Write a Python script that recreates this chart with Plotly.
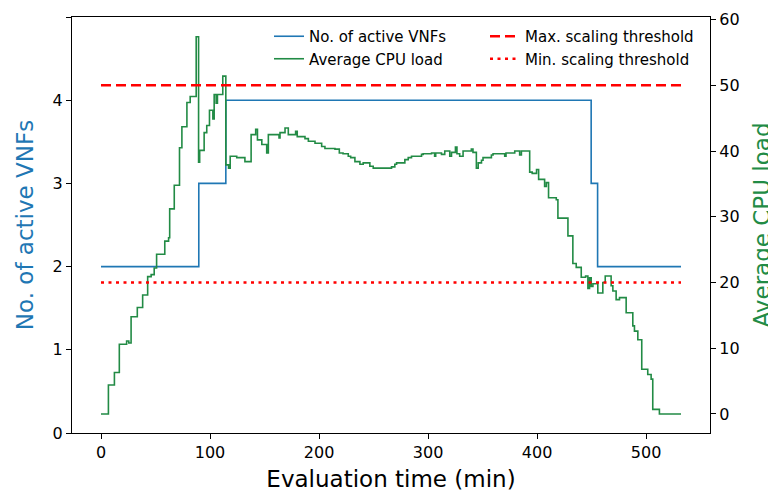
import plotly.graph_objects as go

# ---- data ----
time_vnf = [0, 89.7, 114.5, 449.6, 455.5, 532]
active_vnfs = [2, 3, 4, 3, 2, 2]

time_cpu = [0, 6.8, 12.3, 16.8, 23.5, 25.5, 27.6, 33.3, 38.2, 42.8, 46.0, 48.8, 51.0,
            58.5, 62.0, 63.0, 67.2, 72.0, 74.2, 78.8, 81.8, 87.3, 89.5, 90.5, 94.6,
            97.0, 99.5, 102.6, 103.8, 105.6, 106.8, 111.7, 114.5, 117.0, 118.5, 124.5,
            132.0, 137.7, 141.9, 143.5, 147.5, 152.0, 153.5, 163.3, 164.2, 168.8, 171.8,
            178.5, 180.0, 187.1, 190.2, 196.3, 202.4, 205.4, 214.6, 218.6, 222.0, 226.8,
            229.0, 232.9, 237.5, 240.5, 246.6, 249.7, 266.5, 269.5, 271.1, 278.7, 281.8,
            284.8, 294.0, 295.5, 303.2, 306.0, 307.0, 312.3, 315.3, 319.9, 321.5, 325.1,
            326.5, 329.0, 332.1, 339.7, 341.2, 344.3, 346.0, 349.0, 350.4, 358.1, 359.6,
            370.3, 371.5, 379.5, 384.0, 385.6, 393.2, 395.5, 399.5, 401.4, 406.9, 408.5,
            410.5, 417.6, 419.1, 428.3, 432.8, 435.9, 440.5, 444.5, 446.6, 448.1, 449.6,
            451.2, 455.7, 460.3, 462.5, 467.9, 469.5, 472.5, 475.6, 481.7, 487.8, 489.3,
            492.4, 496.0, 501.5, 504.6, 506.1, 512.2, 532]
cpu_load = [0.0, 4.4, 6.3, 10.6, 11.1, 10.8, 14.8, 16.2, 18.1, 20.9, 21.2, 22.2, 24.3,
            26.3, 26.8, 31.2, 34.8, 40.5, 43.7, 47.4, 48.3, 57.4, 38.3, 40.1, 42.8,
            43.9, 46.2, 44.9, 48.6, 47.3, 48.6, 51.4, 37.9, 37.4, 39.2, 39.0,
            38.4, 42.5, 43.3, 41.7, 41.0, 39.7, 42.5, 42.0, 42.8, 43.5, 42.5,
            43.0, 42.2, 41.9, 41.5, 41.2, 40.7, 40.4, 40.3, 39.7, 39.6, 39.2,
            39.0, 38.4, 38.0, 38.2, 37.7, 37.4, 37.6, 38.0, 38.2, 38.7, 39.0,
            39.2, 39.5, 39.6, 39.7, 39.2, 39.7, 39.5, 40.0, 39.2, 39.8, 40.6,
            39.6, 39.2, 40.0, 40.3, 39.8, 37.4, 38.2, 38.6, 39.0, 39.4, 39.6,
            39.2, 39.7, 40.0, 39.4, 40.0, 36.8, 36.6, 37.2, 35.7, 34.6, 35.2,
            32.9, 32.6, 29.8, 27.1, 22.9, 22.3, 20.8, 21.0, 19.1, 20.7, 19.4,
            19.8, 18.4, 20.0, 21.0, 19.5, 18.7, 17.4, 17.7, 15.4, 13.4, 12.6,
            11.3, 6.8, 6.0, 5.3, 0.7, 0.0, 0.0]

threshold_time = [0, 532]
max_threshold = [50, 50]
min_threshold = [20, 20]

left_ticks = [0, 1, 2, 3, 4, 5]
right_ticks = [0, 10, 20, 30, 40, 50, 60]
x_ticks = [0, 100, 200, 300, 400, 500]

BLUE = "#1f77b4"
GREEN = "#228b45"
RED = "#ff0000"
FONT = "DejaVu Sans"

fig = go.Figure()
fig.add_trace(go.Scatter(x=time_vnf, y=active_vnfs, mode="lines", name="No. of active VNFs",
                         line=dict(color=BLUE, width=1.6, shape="hv"), legend="legend"))
fig.add_trace(go.Scatter(x=time_cpu, y=cpu_load, mode="lines", name="Average CPU load",
                         line=dict(color=GREEN, width=1.6, shape="hv"), yaxis="y2", legend="legend"))
fig.add_trace(go.Scatter(x=threshold_time, y=max_threshold, mode="lines", name="Max. scaling threshold",
                         line=dict(color=RED, width=2.5, dash="10px,5px"), yaxis="y2", legend="legend2"))
fig.add_trace(go.Scatter(x=threshold_time, y=min_threshold, mode="lines", name="Min. scaling threshold",
                         line=dict(color=RED, width=2.5, dash="3px,4.5px"), yaxis="y2", legend="legend2"))

axis_common = dict(showgrid=False, zeroline=False, showline=True, linecolor="black", linewidth=1.3,
                   ticks="outside", ticklen=5, tickwidth=1.2, tickcolor="black", automargin=False,
                   tickfont=dict(family=FONT, size=16, color="black"))

# The page body adds an 8px offset, so the figure is 8px smaller on each dimension.
fig.update_layout(
    width=768, height=485,
    margin=dict(l=64, r=66, t=9, b=60),
    paper_bgcolor="white", plot_bgcolor="white",
    font=dict(family=FONT, color="black"),
    xaxis=dict(range=[-26.6, 558.6], tickvals=x_ticks, mirror=True,
               title=dict(text="Evaluation time (min)", font=dict(size=23, family=FONT), standoff=9),
               **axis_common),
    yaxis=dict(range=[0, 5], tickvals=left_ticks,
               title=dict(text="No. of active VNFs", font=dict(size=23, family=FONT, color=BLUE), standoff=12),
               **axis_common),
    yaxis2=dict(range=[-2.9, 60.4], tickvals=right_ticks, overlaying="y", side="right",
                title=dict(text="Average CPU load", font=dict(size=23, family=FONT, color=GREEN), standoff=15),
                **axis_common),
    legend=dict(x=(269 - 72) / 638, y=1 - (20 - 17) / 416, xanchor="left", yanchor="top",
                bgcolor="rgba(0,0,0,0)", font=dict(family=FONT, size=15), tracegroupgap=0),
    legend2=dict(x=(485 - 72) / 638, y=1 - (20 - 17) / 416, xanchor="left", yanchor="top",
                 bgcolor="rgba(0,0,0,0)", font=dict(family=FONT, size=15), tracegroupgap=0),
    showlegend=True,
)

fig.write_html("out.html")
